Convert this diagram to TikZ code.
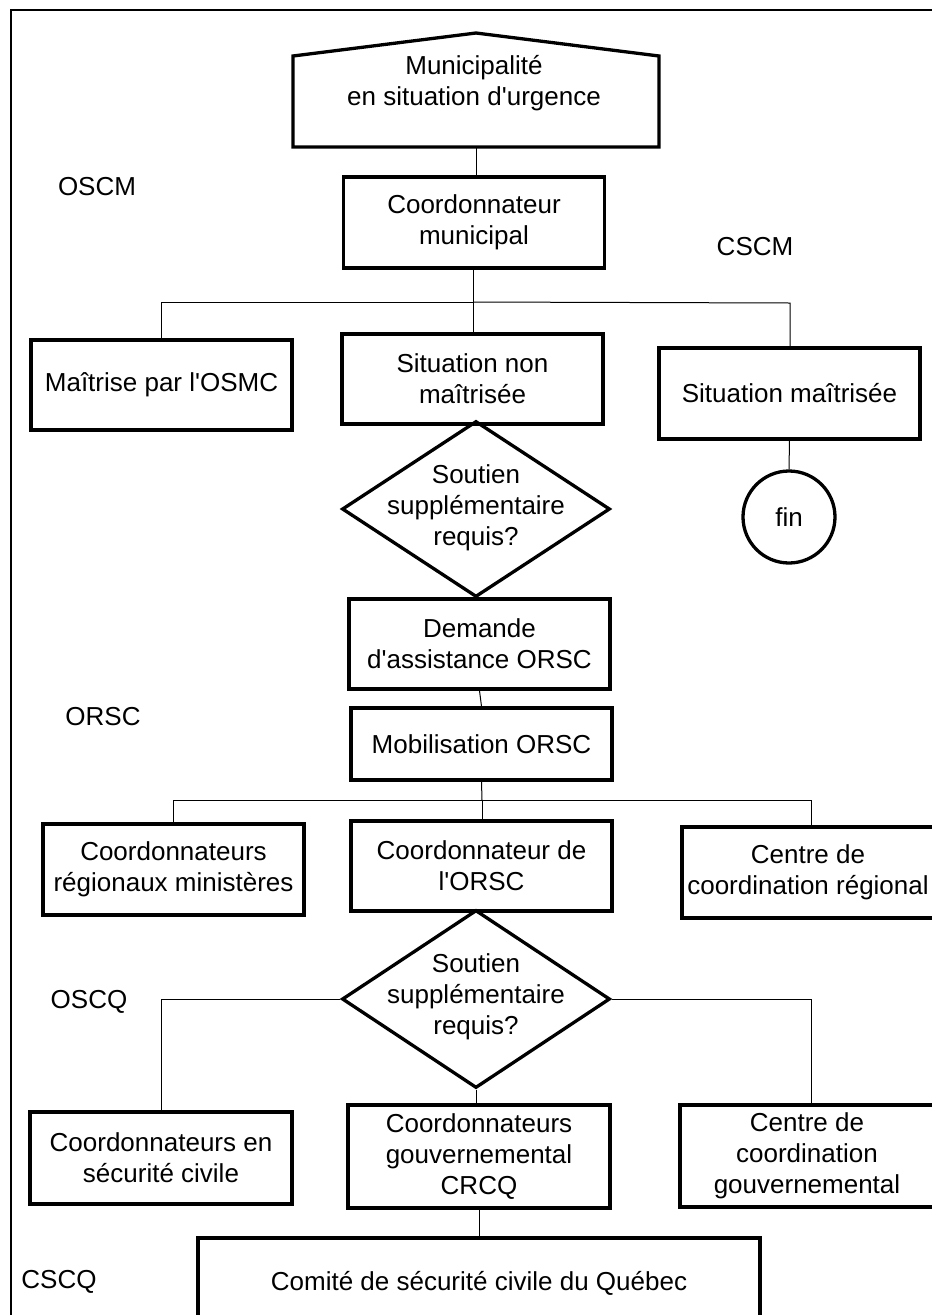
\documentclass[tikz,border=0pt]{standalone}
\usepackage{fontspec}
\setmainfont{Liberation Sans}[Ligatures=TeXOff]
\usetikzlibrary{shapes.geometric}
\newcommand\myfnt{\fontsize{26}{31}\selectfont}
\tikzset{
  box/.style={draw, line width=3.3pt, inner sep=0pt, align=center, font=\myfnt},
  dia/.style={draw, shape=diamond, line width=3.3pt, inner sep=0pt},
  txt/.style={align=center, font=\myfnt, inner sep=0pt},
  conn/.style={line width=1pt},
  frame/.style={line width=2.4pt}
}
\begin{document}
\begin{tikzpicture}[x=1pt,y=-1pt]
\useasboundingbox (0,0) rectangle (932,1315);
% frame
\draw[frame] (11,1330) -- (11,10) -- (945,10);
% house
\coordinate (hl) at (293,147);
\coordinate (hr) at (659,147);
\coordinate (munb) at (476,147);
\draw[line width=3.3pt, line join=miter] (hl) -- (293,56) -- (476,33) -- (659,56) -- (hr) -- cycle;
\node[txt] (mun) at (474,83) {Municipalit\'e\\en situation d'urgence};
% side labels
\node[txt] (oscm) at (97,187) {OSCM};
\node[txt] (cscm) at (755,247) {CSCM};
\node[txt] (orsc) at (103,717) {ORSC};
\node[txt] (oscq) at (89,1002) {OSCQ};
\node[txt] (cscq) at (59,1282) {CSCQ};
% level 1
\node[box, minimum width=261, minimum height=91] (cm) at (474,222.5) {Coordonnateur\\municipal};
\node[box, minimum width=261, minimum height=90] (mai) at (161.5,385) {Ma\^itrise par l'OSMC};
\node[box, minimum width=261, minimum height=90] (snm) at (472.5,379) {Situation non\\ma\^itris\'ee};
\node[box, minimum width=261, minimum height=91] (sm) at (789.5,393.5) {Situation ma\^itris\'ee};
\node[draw, circle, line width=3.3pt, minimum size=92, inner sep=0pt, font=\myfnt] (fin) at (789,517) {fin};
% diamond 1
\node[dia, minimum width=268, minimum height=176] (d1) at (476,509) {};
\node[txt] (d1t) at (476,508) {Soutien\\suppl\'ementaire\\requis?};
\node[box, minimum width=261, minimum height=90] (dem) at (479.5,644) {Demande\\d'assistance ORSC};
\node[box, minimum width=261, minimum height=72] (mob) at (481.5,744) {Mobilisation ORSC};
% level 2
\node[box, minimum width=261, minimum height=91] (crm) at (173.5,869.5) {Coordonnateurs\\r\'egionaux minist\`eres};
\node[box, minimum width=261, minimum height=90] (corsc) at (481.5,866) {Coordonnateur de\\l'ORSC};
\node[box, minimum width=252, minimum height=91] (ccr) at (808,872.5) {Centre de\\coordination r\'egional};
% diamond 2
\node[dia, minimum width=268, minimum height=178] (d2) at (476,999) {};
\node[txt] (d2t) at (476,997) {Soutien\\suppl\'ementaire\\requis?};
% level 3
\node[box, minimum width=262, minimum height=92] (ces) at (161,1158) {Coordonnateurs en\\s\'ecurit\'e civile};
\node[box, minimum width=262, minimum height=103] (crcq) at (479,1156.5) {Coordonnateurs\\gouvernemental\\CRCQ};
\node[box, minimum width=254, minimum height=102] (cgv) at (807,1156) {Centre de\\coordination\\gouvernemental};
\node[box, minimum width=562, minimum height=90] (com) at (479,1283) {Comit\'e de s\'ecurit\'e civile du Qu\'ebec};
% connectors
\draw[conn] (munb) -- (munb |- cm.north);
\coordinate (j1) at (473,302);
\coordinate (j1r) at (790,303);
\draw[conn] (cm.south -| j1) -- (j1);
\draw[conn] (j1) -| (mai.north);
\draw[conn] (j1) -- (j1 |- snm.north);
\draw[conn] (j1) -- (j1r) -- (j1r |- sm.north);
\draw[conn] (sm.south) -- (fin.north);
\draw[conn] (dem.south) -- (mob.north);
\coordinate (j2) at (482,800);
\coordinate (j2r) at (811,800);
\draw[conn] (mob.south) -- (j2);
\draw[conn] (j2) -| (crm.north);
\draw[conn] (j2) -- (j2 |- corsc.north);
\draw[conn] (j2) -- (j2r) -- (j2r |- ccr.north);
\coordinate (j3r) at (811,999);
\draw[conn] (d2.west) -| (ces.north);
\draw[conn] (d2.east) -- (j3r) -- (j3r |- cgv.north);
\draw[conn] (d2.south) -- (d2.south |- crcq.north);
\draw[conn] (crcq.south) -- (com.north);
\end{tikzpicture}
\end{document}
